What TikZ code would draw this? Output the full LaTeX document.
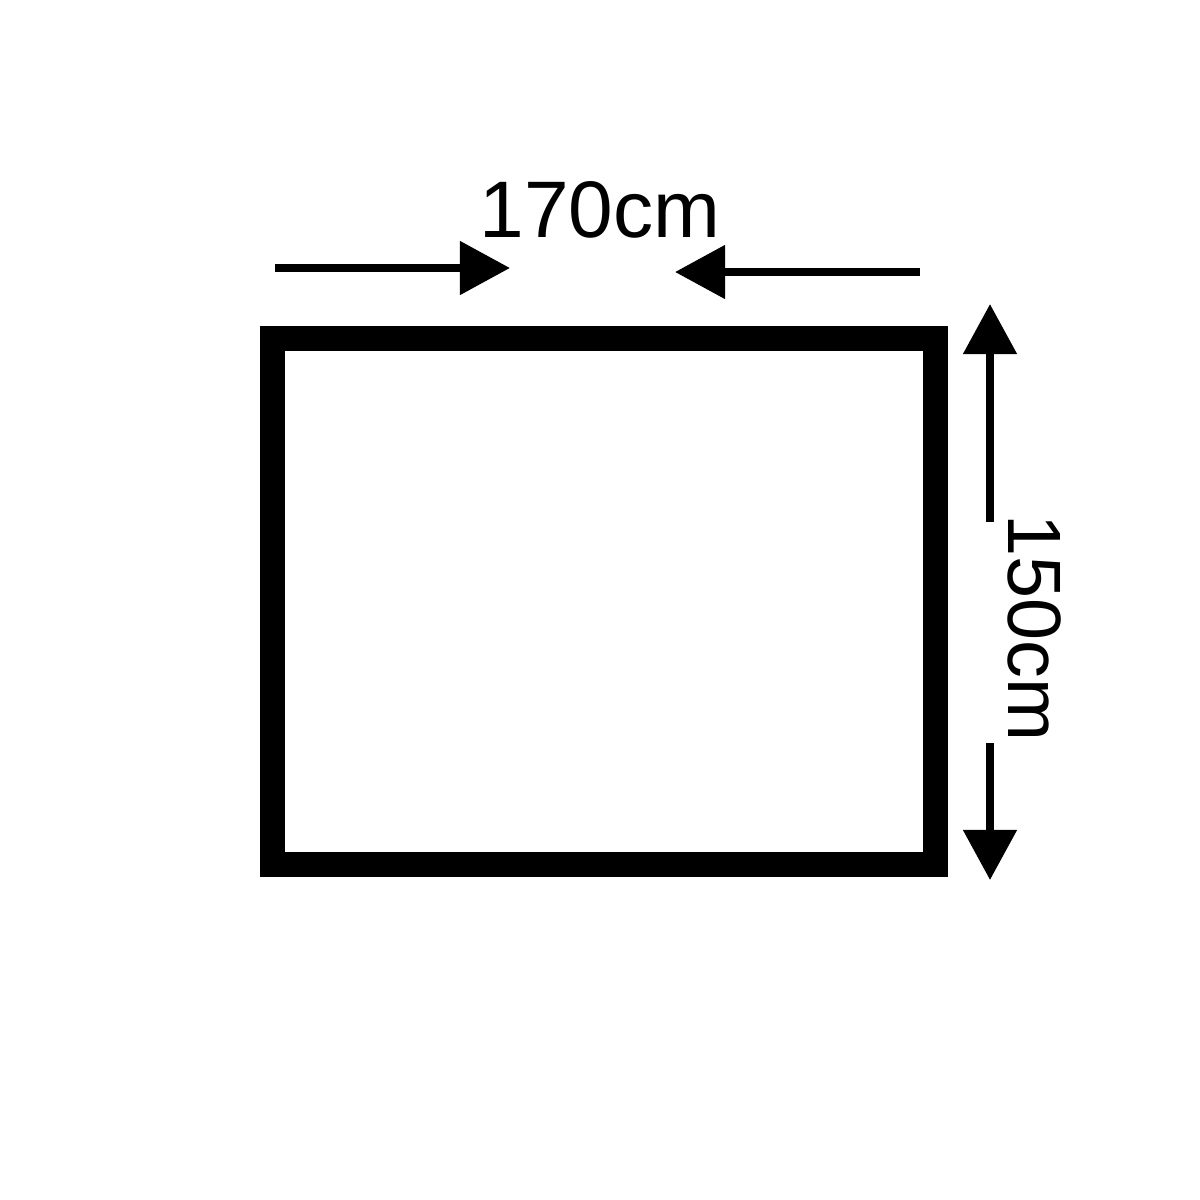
\documentclass[tikz,border=0pt]{standalone}
\usepackage{fontspec}
\setmainfont{Liberation Sans}
\usetikzlibrary{arrows.meta}
\begin{document}
\begin{tikzpicture}[x=0.01cm,y=-0.01cm,
  dimarrow/.style={line width=0.08cm,-{Triangle[length=0.5cm,width=0.52cm]}},
  lbl/.style={font=\fontsize{21.5pt}{24pt}\selectfont,inner sep=0pt}]
\useasboundingbox (0,0) rectangle (1200,1200);
\draw[line width=0.25cm] (272.5,338.5) rectangle (935.5,864.5);
\coordinate (a1s) at (275,268);
\coordinate (a1e) at (510,268);
\coordinate (a2s) at (920,272);
\coordinate (a2e) at (675,272);
\draw[dimarrow] (a1s) -- (a1e);
\draw[dimarrow] (a2s) -- (a2e);
\node[lbl,font=\fontsize{22.8pt}{25pt}\selectfont] (w) at (600,210) {170cm};
\coordinate (b1s) at (990,522);
\coordinate (b1e) at (990,304);
\coordinate (b2s) at (990,743);
\coordinate (b2e) at (990,880);
\draw[dimarrow] (b1s) -- (b1e);
\draw[dimarrow] (b2s) -- (b2e);
\node[lbl,rotate=-90] (h) at (1035,628) {150cm};
\end{tikzpicture}
\end{document}
